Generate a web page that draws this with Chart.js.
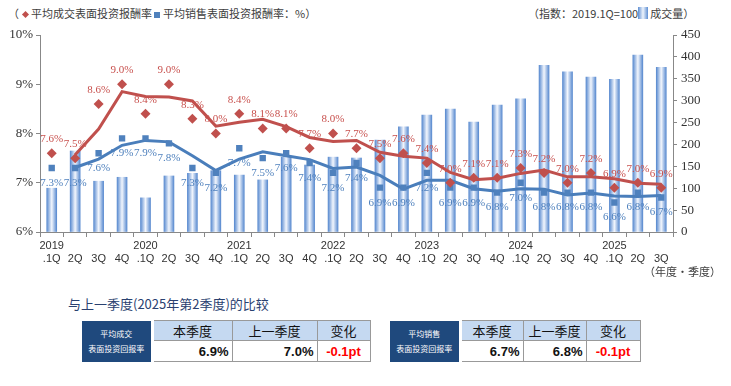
<!DOCTYPE html>
<html>
<head>
<meta charset="utf-8">
<script src="https://cdn.jsdelivr.net/npm/chart.js@4.4.1/dist/chart.umd.min.js"></script>
<style>
body{margin:0;width:731px;height:386px;background:#fff;position:relative;overflow:hidden;font-family:"Noto Sans CJK SC",sans-serif;color:#333}
#wrap{position:absolute;left:0;top:0;width:731px;height:272px}
.note{position:absolute;font-size:11px;white-space:nowrap;color:#404040}
.dia{display:inline-block;width:5px;height:5px;background:#c0504d;transform:rotate(45deg);margin:0 3px 1px 4px;vertical-align:middle}
.sq{display:inline-block;width:6px;height:6px;background:#4f81bd;margin:0 3px 1px 2px;vertical-align:middle}
.barIcon{display:inline-block;width:10px;height:12px;background:linear-gradient(90deg,#5e8ed2,#eef4fc,#5e8ed2);vertical-align:-1px;margin-right:2px}
#cmpTitle{position:absolute;left:68px;top:294px;font-size:13px;color:#2a4170}
.tbl{position:absolute;top:320px;border-collapse:collapse;table-layout:fixed}
.tbl td{border:1px solid #999;height:17px;padding:0 3px;font-size:13px;box-sizing:border-box}
.tbl tr.r2 td{height:21px}
.tbl td.head{background:#1f497d;color:#fff;font-size:8px;text-align:center;line-height:15px;border:none;border-right:3px solid #fff;padding:0}
.tbl td.hd{background:#c5d9f1;text-align:center;color:#111}
.tbl td.v{text-align:right;font-weight:bold;color:#111;font-family:"Liberation Sans",sans-serif}
.tbl td.chg{text-align:center;font-weight:bold;color:#ff0000;font-family:"Liberation Sans",sans-serif}
</style>
</head>
<body>
<div class="note" style="left:8px;top:5px">（<span class="dia"></span>平均成交表面投资报酬率<span class="sq"></span>平均销售表面投资报酬率：%）</div>
<div class="note" style="left:528px;top:5px">（指数：2019.1Q=100<span class="barIcon"></span>成交量）</div>
<div id="wrap"><canvas id="grafica"></canvas></div>
<div class="note" style="left:644px;top:263px">（年度·季度）</div>
<div id="cmpTitle">与上一季度(2025年第2季度)的比较</div>
<table class="tbl" style="left:82px" id="tabla1"></table>
<table class="tbl" style="left:390px" id="tabla2"></table>
<script>
const categories = [
    ["2019", ".1Q"], ["", "2Q"], ["", "3Q"], ["", "4Q"],
    ["2020", ".1Q"], ["", "2Q"], ["", "3Q"], ["", "4Q"],
    ["2021", ".1Q"], ["", "2Q"], ["", "3Q"], ["", "4Q"],
    ["2022", ".1Q"], ["", "2Q"], ["", "3Q"], ["", "4Q"],
    ["2023", ".1Q"], ["", "2Q"], ["", "3Q"], ["", "4Q"],
    ["2024", ".1Q"], ["", "2Q"], ["", "3Q"], ["", "4Q"],
    ["2025", ".1Q"], ["", "2Q"], ["", "3Q"]
];

// 成交量指数 (2019.1Q = 100)
const volumen = [100, 185, 116, 125, 78, 128, 134, 140, 130, 119, 171, 153, 171, 169, 210, 240,
    267, 281, 251, 290, 304, 381, 366, 354, 349, 404, 376];

// 平均成交表面投资报酬率
const rendCierre = [7.6, 7.5, 8.6, 9.0, 8.4, 9.0, 8.3, 8.0, 8.4, 8.1, 8.1, 7.7, 8.0, 7.7, 7.5, 7.6,
    7.4, 7.0, 7.1, 7.1, 7.3, 7.2, 7.0, 7.2, 6.9, 7.0, 6.9];
const tendCierre = [null, 7.57, 8.09, 8.85, 8.75, 8.74, 8.66, 8.15, 8.23, 8.29, 8.14, 7.92, 7.84, 7.86, 7.62, 7.54,
    7.50, 7.21, 7.06, 7.09, 7.19, 7.26, 7.12, 7.12, 7.08, 6.99, 6.97];

// 平均销售表面投资报酬率
const rendVenta = [7.3, 7.3, 7.6, 7.9, 7.9, 7.8, 7.3, 7.2, 7.7, 7.5, 7.6, 7.4, 7.2, 7.4, 6.9, 6.9,
    7.2, 6.9, 6.9, 6.8, 7.0, 6.8, 6.8, 6.8, 6.6, 6.8, 6.7];
const tendVenta = [null, 7.31, 7.48, 7.76, 7.86, 7.83, 7.55, 7.25, 7.48, 7.63, 7.55, 7.47, 7.29, 7.32, 7.15, 6.87,
    7.05, 7.05, 6.88, 6.83, 6.88, 6.87, 6.75, 6.79, 6.73, 6.72, 6.74];

const ticksIzq = ["6%", "7%", "8%", "9%", "10%"];

const cabeceras = ["本季度", "上一季度", "变化"];
const tablaCierre = ["6.9%", "7.0%", "-0.1pt"];
const tablaVenta = ["6.7%", "6.8%", "-0.1pt"];

function llenarTabla(id, titulo, valores, anchos) {
    const t = document.getElementById(id);
    t.style.width = (70 + anchos[0] + anchos[1] + anchos[2]) + "px";
    t.innerHTML =
        '<colgroup><col style="width:70px"><col style="width:' + anchos[0] + 'px">' +
        '<col style="width:' + anchos[1] + 'px"><col style="width:' + anchos[2] + 'px"></colgroup>' +
        '<tr><td class="head" rowspan="2">' + titulo + '</td>' +
        '<td class="hd">' + cabeceras[0] + '</td>' +
        '<td class="hd">' + cabeceras[1] + '</td>' +
        '<td class="hd">' + cabeceras[2] + '</td></tr>' +
        '<tr class="r2"><td class="v">' + valores[0] + '</td><td class="v">' + valores[1] + '</td><td class="chg">' + valores[2] + '</td></tr>';
}
llenarTabla("tabla1", "平均成交<br>表面投资回报率", tablaCierre, [80, 85, 53]);
llenarTabla("tabla2", "平均销售<br>表面投资回报率", tablaVenta, [63, 63, 54]);

// barras con efecto cilindro
const sombraBarras = {
    id: "sombraBarras",
    beforeDatasetDraw(chart, args) {
        if (args.meta.type !== "bar") return;
        const ctx = chart.ctx;
        args.meta.data.forEach(el => {
            const g = ctx.createLinearGradient(el.x - el.width / 2, 0, el.x + el.width / 2, 0);
            g.addColorStop(0, "#5a8bd0");
            g.addColorStop(0.5, "#f2f6fd");
            g.addColorStop(1, "#5a8bd0");
            el.options.backgroundColor = g;
        });
    }
};

// etiquetas de valor
const etiquetas = {
    id: "etiquetas",
    afterDatasetsDraw(chart) {
        const ctx = chart.ctx;
        chart.data.datasets.forEach((ds, i) => {
            if (!ds.desplazamiento) return;
            const meta = chart.getDatasetMeta(i);
            ctx.save();
            ctx.font = '11px "Liberation Serif"';
            ctx.fillStyle = ds.colorEtiqueta;
            ctx.textAlign = "center";
            ctx.textBaseline = "middle";
            meta.data.forEach((p, j) => {
                ctx.fillText(ds.data[j].toFixed(1) + "%", p.x, p.y + ds.desplazamiento);
            });
            ctx.restore();
        });
    }
};

const ctx = document.getElementById("grafica").getContext("2d");

new Chart(ctx, {
    type: "bar",
    data: {
        labels: categories,
        datasets: [
            {
                type: "line",
                data: rendCierre,
                yAxisID: "y",
                showLine: false,
                pointStyle: "rectRot",
                pointRadius: 5,
                backgroundColor: "#c0504d",
                borderColor: "#c0504d",
                borderWidth: 0,
                order: 0,
                desplazamiento: -14,
                colorEtiqueta: "#c8504d"
            },
            {
                type: "line",
                data: rendVenta,
                yAxisID: "y",
                showLine: false,
                pointStyle: "rect",
                pointRadius: 4.5,
                backgroundColor: "#4f81bd",
                borderColor: "#4f81bd",
                borderWidth: 0,
                order: 0,
                desplazamiento: 15,
                colorEtiqueta: "#4f81bd"
            },
            {
                type: "line",
                data: tendCierre,
                yAxisID: "y",
                borderColor: "#c0504d",
                borderWidth: 3,
                pointRadius: 0,
                tension: 0,
                order: 1
            },
            {
                type: "line",
                data: tendVenta,
                yAxisID: "y",
                borderColor: "#4a7ebb",
                borderWidth: 3,
                pointRadius: 0,
                tension: 0,
                order: 1
            },
            {
                type: "bar",
                data: volumen,
                yAxisID: "y1",
                backgroundColor: () => "#9dbbe6",
                barThickness: 10,
                order: 5
            }
        ]
    },
    options: {
        responsive: true,
        maintainAspectRatio: false,
        animation: false,
        layout: { padding: { top: 35, bottom: 0, left: 0, right: 0 } },
        plugins: { legend: { display: false }, tooltip: { enabled: false } },
        scales: {
            x: {
                offset: true,
                grid: { drawOnChartArea: false, offset: true, tickLength: 5, color: "#888" },
                border: { color: "#888" },
                ticks: {
                    autoSkip: false, maxRotation: 0, padding: 2, color: "#333",
                    font: { family: "Liberation Sans", size: 11 }
                },
                afterFit(s) { s.height = 40; }
            },
            y: {
                position: "left",
                min: 6, max: 10,
                grid: { drawOnChartArea: false, tickLength: 4, color: "#888" },
                border: { color: "#888" },
                ticks: {
                    stepSize: 1, color: "#333", padding: 3,
                    font: { family: "Liberation Serif", size: 13 },
                    callback: (v) => ticksIzq[v - 6]
                },
                afterFit(s) { s.width = 40; }
            },
            y1: {
                position: "right",
                min: 0, max: 450,
                grid: { drawOnChartArea: false, tickLength: 4, color: "#888" },
                border: { color: "#888" },
                ticks: {
                    stepSize: 50, color: "#333", padding: 4,
                    font: { family: "Liberation Serif", size: 13 }
                },
                afterFit(s) { s.width = 58; }
            }
        }
    },
    plugins: [sombraBarras, etiquetas]
});
</script>
</body>
</html>
